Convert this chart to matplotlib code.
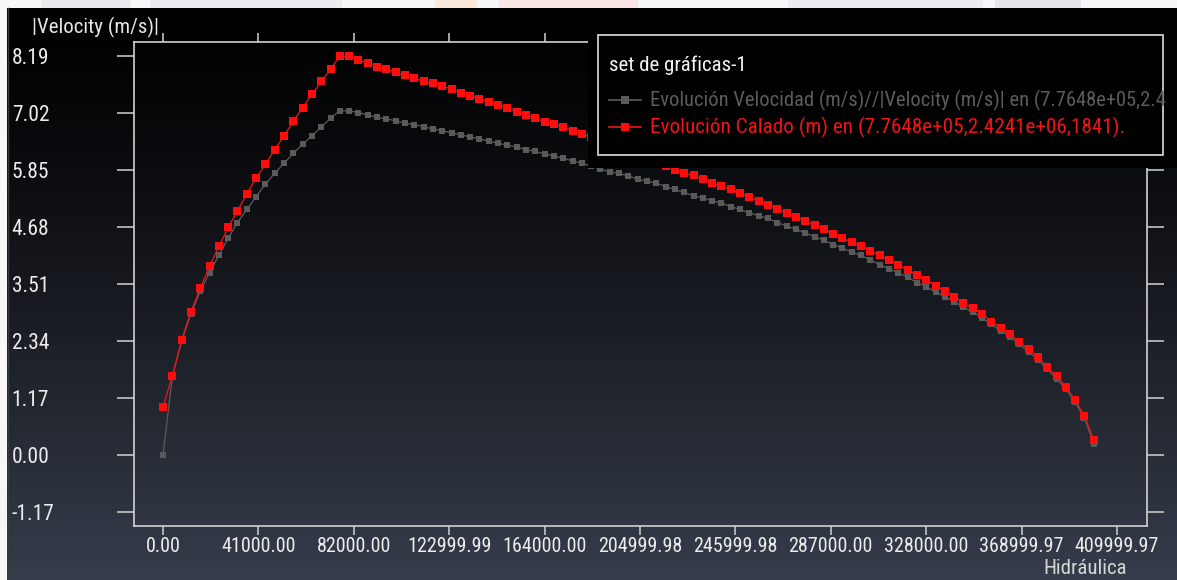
import numpy as np
import matplotlib
matplotlib.use("Agg")
import matplotlib.pyplot as plt
from matplotlib import font_manager
from matplotlib.patches import Rectangle
from matplotlib.lines import Line2D

# ---------------- data ----------------
distance = np.linspace(0, 400000, 101)  # sampling stations along the profile

calado = [0.99, 1.62, 2.36, 2.94, 3.42, 3.88, 4.28, 4.67, 5.01, 5.36,
          5.68, 5.97, 6.27, 6.55, 6.85, 7.13, 7.40, 7.67, 7.92, 8.19,
          8.18, 8.11, 8.04, 7.97, 7.92, 7.86, 7.79, 7.73, 7.67, 7.63,
          7.57, 7.51, 7.44, 7.37, 7.31, 7.25, 7.18, 7.12, 7.05, 6.98,
          6.91, 6.84, 6.79, 6.73, 6.66, 6.59, 6.52, 6.45, 6.38, 6.31,
          6.24, 6.16, 6.09, 6.01, 5.94, 5.86, 5.79, 5.74, 5.66, 5.58,
          5.52, 5.45, 5.37, 5.29, 5.21, 5.14, 5.05, 4.97, 4.89, 4.80,
          4.72, 4.63, 4.54, 4.45, 4.37, 4.29, 4.19, 4.10, 4.00, 3.91,
          3.79, 3.69, 3.59, 3.47, 3.37, 3.25, 3.13, 3.01, 2.89, 2.74,
          2.60, 2.48, 2.32, 2.17, 2.01, 1.81, 1.62, 1.40, 1.13, 0.81,
          0.31]

velocidad = [0.00, 1.60, 2.33, 2.90, 3.36, 3.74, 4.10, 4.45, 4.77, 5.04,
             5.30, 5.56, 5.78, 5.99, 6.19, 6.38, 6.55, 6.73, 6.91, 7.07,
             7.06, 7.03, 6.98, 6.93, 6.90, 6.86, 6.81, 6.78, 6.74, 6.69,
             6.66, 6.61, 6.57, 6.53, 6.49, 6.44, 6.40, 6.36, 6.32, 6.27,
             6.23, 6.18, 6.14, 6.09, 6.04, 5.99, 5.93, 5.87, 5.81, 5.78,
             5.73, 5.66, 5.62, 5.58, 5.51, 5.45, 5.39, 5.32, 5.28, 5.22,
             5.17, 5.10, 5.04, 4.97, 4.91, 4.86, 4.77, 4.70, 4.63, 4.56,
             4.48, 4.41, 4.32, 4.25, 4.16, 4.10, 4.00, 3.91, 3.82, 3.74,
             3.65, 3.54, 3.45, 3.35, 3.25, 3.15, 3.03, 2.94, 2.82, 2.68,
             2.55, 2.43, 2.27, 2.12, 1.96, 1.76, 1.57, 1.35, 1.08, 0.76,
             0.23]

x_ticks = [0, 41000, 82000, 122999.99, 164000, 204999.98, 245999.98,
           287000, 328000, 368999.97, 409999.97]
x_tick_labels = ["0.00", "41000.00", "82000.00", "122999.99", "164000.00",
                 "204999.98", "245999.98", "287000.00", "328000.00",
                 "368999.97", "409999.97"]
y_ticks = [-1.17, 0.00, 1.17, 2.34, 3.51, 4.68, 5.85, 7.02, 8.19]
y_tick_labels = ["-1.17", "0.00", "1.17", "2.34", "3.51", "4.68", "5.85",
                 "7.02", "8.19"]

y_title = "|Velocity (m/s)|"
x_title = "Hidráulica"
legend_title = "set de gráficas-1"
# the reference panel shows this entry cut at the picture edge
label_vel = "Evolución Velocidad (m/s)//|Velocity (m/s)| en (7.7648e+05,2.4"
label_cal = "Evolución Calado (m) en (7.7648e+05,2.4241e+06,1841)."

# ---------------- fonts ----------------
def pick_font(cands):
    for c in cands:
        try:
            font_manager.findfont(c, fallback_to_default=False)
            return c
        except Exception:
            pass
    return "DejaVu Sans"

FONT = pick_font(["Liberation Sans Narrow", "Roboto Condensed", "Arial Narrow",
                  "Liberation Sans"])
plt.rcParams["font.family"] = [FONT, "DejaVu Sans"]
FS = 15
FS_X = 14.5
FS_Y = 15.5

W, H = 1177, 580
fig = plt.figure(figsize=(W / 100, H / 100), dpi=100)

def fx(px):
    return px / W

def fy(py):
    return 1 - py / H

# ---------------- background ----------------
bg = fig.add_axes([0, 0, 1, 1])
bg.set_zorder(-5)
bg.axis("off")
bg.add_patch(Rectangle((0, 0), W, H, color="#f7f7f8", lw=0, zorder=0))
t = np.linspace(0, 1, 400) ** 1.25
top_c = np.array([0.0, 0.0, 0.0])
bot_c = np.array([0x36, 0x3d, 0x4b]) / 255
grad = top_c[None, :] * (1 - t[:, None]) + bot_c[None, :] * t[:, None]
bg.imshow(grad[:, None, :], extent=(7, W, H, 8), aspect="auto",
          interpolation="bilinear", zorder=1)
bg.set_xlim(0, W)
bg.set_ylim(H, 0)
bg.plot([7.5, 7.5], [8, H], color="#3a3a3a", lw=1, zorder=2)
strip = [(41, 131, "#e9e9ee"), (150, 342, "#ededf1"), (435, 477, "#fbe9dc"),
         (499, 638, "#fbe6e6"), (788, 983, "#ededf1"), (995, 1081, "#e6e6eb")]
for a, b, c in strip:
    bg.add_patch(Rectangle((a, 0), b - a, 8, color=c, lw=0, zorder=2))

# ---------------- main axes ----------------
L, R, T, B = 134, 1147, 42, 526
ax = fig.add_axes([fx(L), fy(B), (R - L) / W, (B - T) / H])
ax.patch.set_alpha(0)

ax.plot(distance, velocidad, color="#5c5c5c", lw=0.9, marker="s",
        markersize=5, markerfacecolor="#5a5a5a", markeredgewidth=0, zorder=3)
ax.plot(distance, calado, color="#f01414", lw=0.9, marker="s",
        markersize=5.5, markerfacecolor="#ff0d0d", markeredgewidth=0, zorder=4)

x_per_px = 409999.97 / (1117 - 163)
ax.set_xlim(-(163 - L) * x_per_px, (R - 163) * x_per_px)
y_per_px = 9.36 / (512 - 56)
ax.set_ylim(-(B - 455) * y_per_px, (455 - T) * y_per_px)

ax.set_xticks(x_ticks)
ax.set_xticklabels(x_tick_labels)
ax.set_yticks(y_ticks)
ax.set_yticklabels(y_tick_labels)

spine_c = "#d2d2d2"
for s in ax.spines.values():
    s.set_color(spine_c)
    s.set_linewidth(1.2)

ax.tick_params(axis="x", which="major", direction="out", top=True, bottom=True,
               length=6.5, width=1.1, color=spine_c, labelcolor="#ececec",
               labelsize=FS_X, pad=1.5)
ax.tick_params(axis="y", which="major", direction="out", left=True, right=True,
               length=12, width=1.1, color=spine_c, labelcolor="#ececec",
               labelsize=FS_Y, pad=76)
for lab in ax.get_yticklabels():
    lab.set_horizontalalignment("left")

fig.text(fx(32), fy(27), y_title, color="#e6e6e6", fontsize=FS,
         ha="left", va="center")
fig.text(fx(1085), fy(568), x_title, color="#d6d6d6", fontsize=FS,
         ha="center", va="center")

# ---------------- legend panel ----------------
fig.add_artist(Rectangle((fx(588), fy(168)), fx(W - 588), (168 - 8) / H,
                         transform=fig.transFigure, color="#000000", lw=0,
                         zorder=10))
fig.add_artist(Rectangle((fx(598), fy(155)), fx(1163 - 598), (155 - 35) / H,
                         transform=fig.transFigure, facecolor="none",
                         edgecolor="#dcdcdc", lw=1.2, zorder=11))
fig.text(fx(609), fy(65), legend_title, color="#f2f2f2", fontsize=FS,
         ha="left", va="center", zorder=12)
entry_texts = []
for yy, col, mcol, lab, fs in [(100, "#5c5c5c", "#5a5a5a", label_vel, 15.2),
                               (127, "#f01414", "#ff0d0d", label_cal, 15.2)]:
    fig.add_artist(Line2D([fx(609), fx(641)], [fy(yy), fy(yy)],
                          transform=fig.transFigure, color=col, lw=1.2,
                          zorder=12))
    fig.add_artist(Line2D([fx(625)], [fy(yy)], transform=fig.transFigure,
                          marker="s", markersize=5.5, color=mcol,
                          markeredgewidth=0, lw=0, zorder=13))
    entry_texts.append(fig.text(fx(650), fy(yy), lab, color=col, fontsize=fs,
                                ha="left", va="center", zorder=12))

# keep the long entry inside the picture
renderer = fig.canvas.get_renderer()
txt = entry_texts[0]
while txt.get_window_extent(renderer).x1 > W - 4 and txt.get_fontsize() > 8:
    txt.set_fontsize(txt.get_fontsize() - 0.2)

fig.savefig("out.png", dpi=100)
